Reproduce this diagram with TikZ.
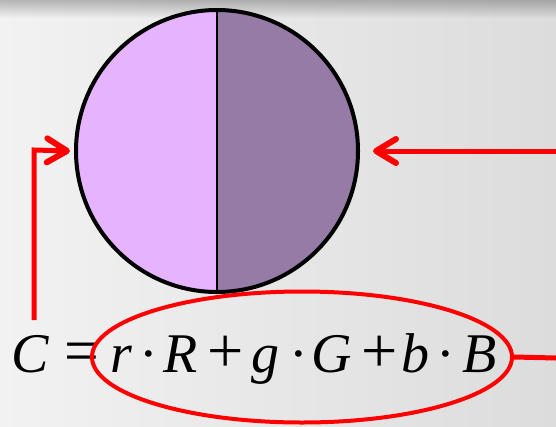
\documentclass[tikz,border=0pt]{standalone}
\usepackage{fontspec}
\usepackage{graphicx}
\setmainfont{Liberation Serif}
\usetikzlibrary{shapes.geometric,arrows.meta,fadings}
\definecolor{bgL}{RGB}{242,242,242}
\definecolor{bgR}{RGB}{220,220,220}
\definecolor{lightpurple}{RGB}{230,179,255}
\definecolor{darkpurple}{RGB}{149,123,165}
\definecolor{arrowred}{RGB}{255,0,0}
\tikzset{
  redarrow/.style={draw=arrowred, line width=5pt,
    -{Straight Barb[length=20pt,width=24pt,line width=6pt,round]}},
  redline/.style={draw=arrowred, line width=5pt},
  formula/.style={font=\fontsize{56}{56}\selectfont, inner sep=0pt},
}
\newcommand{\plusop}{\scalebox{1.15}{+}}
\newcommand{\eqop}{\scalebox{1.1}[1.15]{=}}
\begin{document}
\begin{tikzpicture}[x=1pt,y=-1pt]
\useasboundingbox (0,0) rectangle (556,426);
\shade[left color=bgL, right color=bgR] (0,0) rectangle (556,426);
\fill[black, opacity=0.25, path fading=south] (0,0) rectangle (556,18);
% circle halves
\fill[lightpurple] (217,151) ++(90:141) arc[start angle=90, end angle=270, radius=141] -- cycle;
\fill[darkpurple] (217,151) ++(90:141) arc[start angle=90, end angle=-90, radius=141] -- cycle;
\draw[line width=1.5pt] (217,10) -- (217,292);
\node[circle, draw=black, line width=4pt, minimum size=282pt, inner sep=0pt] (disc) at (217,151) {};
% formula
\node[formula, anchor=base west] (ceq) at (11,372) {\textit{C}\hspace{15pt}\eqop};
\node[ellipse, draw=arrowred, line width=4pt, minimum width=420pt, minimum height=131pt, inner sep=0pt] (ell) at (302,357) {};
\node[formula, anchor=base west] (rgb) at (110,372)
  {\textit{r}\hspace{7pt}·\hspace{6pt}\textit{R}\hspace{9pt}\plusop\hspace{8pt}\textit{g}\hspace{10pt}·\hspace{4pt}\textit{G}\hspace{9pt}\plusop\hspace{4pt}\textit{b}\hspace{7pt}·\hspace{7pt}\textit{B}};
% connectors
\coordinate (lstart) at (34,320);
\coordinate (lcorner) at (34,150);
\coordinate (rstart) at (556,151);
\coordinate (rend) at (556,358);
\draw[redarrow] (lstart) -- (lcorner) -- ([xshift=-4pt]disc.west);
\draw[redarrow] (rstart) -- ([xshift=13pt]disc.east);
\draw[redline] (ell.east) -- (rend);
\end{tikzpicture}
\end{document}
